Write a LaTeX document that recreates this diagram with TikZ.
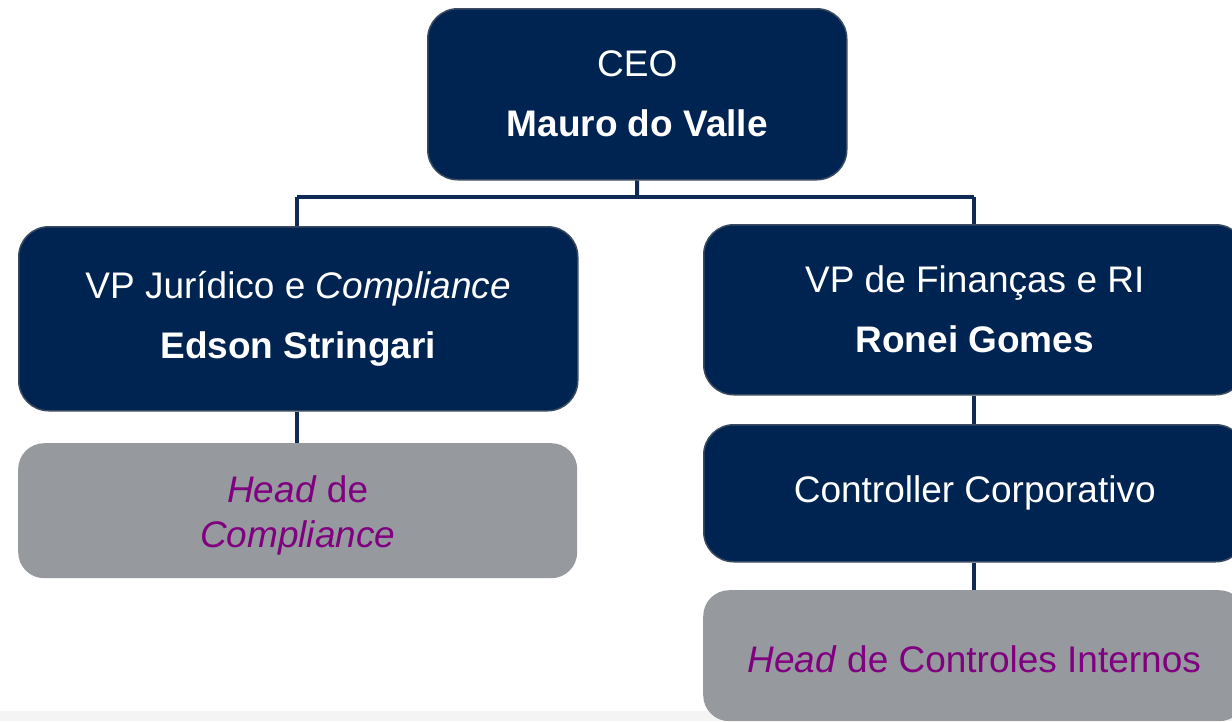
\documentclass[tikz,border=0pt]{standalone}
\usepackage{fontspec}
\setmainfont{Liberation Sans}
\definecolor{navy}{HTML}{002452}
\definecolor{navyedge}{HTML}{3A4A60}
\definecolor{boxgray}{HTML}{969A9E}
\definecolor{headpurple}{HTML}{800080}
\definecolor{linecol}{HTML}{0E2A55}
\definecolor{strip}{HTML}{F4F4F4}
\begin{document}
\begin{tikzpicture}[x=1pt,y=-1pt,
  navybox/.style={draw=navyedge, line width=1.5pt, fill=navy, rounded corners=30pt,
    text=white, align=center, font=\fontsize{37}{60}\selectfont, inner sep=0pt, anchor=north west},
  graybox/.style={fill=boxgray, rounded corners=26pt, inner sep=0pt, anchor=north west},
  graytext/.style={text=headpurple, align=center, font=\fontsize{37}{45}\selectfont, inner sep=0pt},
  conn/.style={draw=linecol, line width=4pt}]
\useasboundingbox (0,0) rectangle (1232,721);
\clip (0,0) rectangle (1232,721);
\fill[strip] (0,711) rectangle (1232,721);
% boxes
\node[navybox, minimum width=419pt, minimum height=171pt] (ceo) at (427,8)
  {CEO\\\textbf{Mauro do Valle}};
\node[navybox, minimum width=559pt, minimum height=184pt] (vpj) at (18,226)
  {VP Jurídico e \textit{Compliance}\\\textbf{Edson Stringari}};
\node[navybox, minimum width=542pt, minimum height=170pt] (vpf) at (703,224)
  {VP de Finanças e RI\\\textbf{Ronei Gomes}};
\node[graybox, minimum width=559pt, minimum height=135pt] (hc) at (18,443) {};
\node[graytext] (hctext) at ([yshift=-5pt]hc.center) {\textit{Head} de\\\textit{Compliance}};
\node[navybox, minimum width=542pt, minimum height=137pt] (ctl) at (703,424)
  {Controller Corporativo};
\node[graybox, minimum width=542pt, minimum height=131pt] (hci) at (703,590) {};
\node[graytext] (hcitext) at ([yshift=-4pt]hci.center) {\textit{Head} de Controles Internos};
% connectors
\coordinate (bus) at (637,197);
\coordinate (busl) at (297,197);
\coordinate (busr) at (974,197);
\draw[conn] (ceo.south) -- (bus);
\draw[conn] (busl) -- (busr);
\draw[conn] (busl) -- (busl |- vpj.north);
\draw[conn] (busr) -- (busr |- vpf.north);
\draw[conn] (vpj.south -| busl) -- (hc.north -| busl);
\draw[conn] (vpf.south -| busr) -- (ctl.north -| busr);
\draw[conn] (ctl.south -| busr) -- (hci.north -| busr);
\end{tikzpicture}
\end{document}
